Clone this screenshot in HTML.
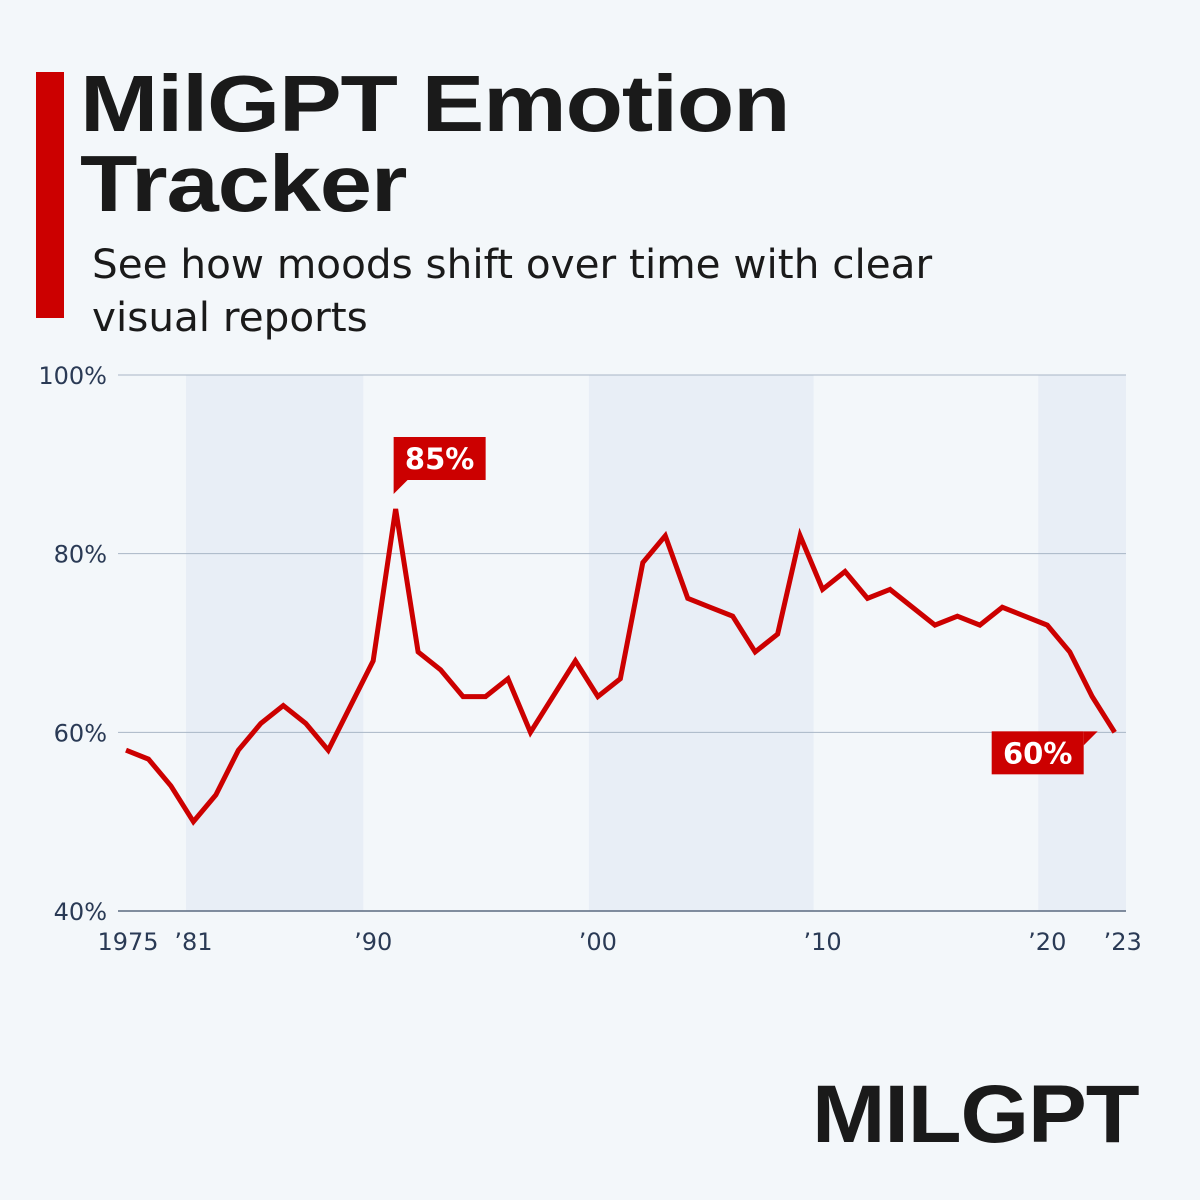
<!DOCTYPE html>
<html><head><meta charset="utf-8"><style>
body{margin:0;width:1200px;height:1200px;background:#f3f7fa;font-family:"Liberation Sans",sans-serif;overflow:hidden;position:relative}
.bar{position:absolute;left:36px;top:72px;width:28px;height:246px;background:#cc0000}
h1{position:absolute;left:80px;top:64px;margin:0;font-size:80px;line-height:80px;font-weight:bold;color:#1a1a1a;letter-spacing:-1px;transform:scaleX(1.175);transform-origin:0 0;white-space:nowrap}
.sub{position:absolute;left:92px;top:238px;font-family:"DejaVu Sans",sans-serif;font-size:40.5px;line-height:53px;color:#1a1a1a;white-space:nowrap}
.logo{position:absolute;left:812px;top:1068px;font-size:82px;font-weight:bold;color:#1a1a1a;letter-spacing:-1px;transform:scaleX(1.075);transform-origin:0 0}
svg{position:absolute;left:0;top:0}
svg text{font-family:"DejaVu Sans",sans-serif}
</style></head><body>
<div class="bar"></div>
<h1>MilGPT Emotion<br>Tracker</h1>
<div class="sub">See how moods shift over time with clear<br>visual reports</div>
<div class="logo">MILGPT</div>
<svg id="chart" width="1200" height="1000"></svg>
<script>
const values=[58,57,54,50,53,58,61,63,61,58,63,68,85,69,67,64,64,66,60,64,68,64,66,79,82,75,74,73,69,71,82,76,78,75,76,74,72,73,72,74,73,72,69,64,60];
const yTicks=[40,60,80,100];
const xLabels=["1975","’81","’90","’00","’10","’20","’23"];
const xLabelIdx=[0,3,11,21,31,41,44];
const bands=[[2.67,10.56],[20.6,30.6],[40.6,44.5]];
const NS="http://www.w3.org/2000/svg";
const svg=document.getElementById('chart');
const x=i=>126+i*22.47;
const y=v=>911-(v-40)*(536/60);
function el(t,a,p){const e=document.createElementNS(NS,t);for(const k in a)e.setAttribute(k,a[k]);(p||svg).appendChild(e);return e;}
bands.forEach(b=>{const r=el('rect',{x:x(b[0]),y:375,width:Math.min(x(b[1]),1126)-x(b[0]),height:536,fill:'#e8eef6'});

});
yTicks.forEach(v=>{const l=el('line',{x1:118,x2:1126,y1:y(v),y2:y(v),stroke:v===40?'#5a6a80':'#a9b6c6','stroke-width':v===40?1.5:1});


const t=el('text',{x:107,y:y(v)+9,'text-anchor':'end','font-size':24,fill:'#2a3a55'});t.textContent=v+'%';

});
xLabels.forEach((s,k)=>{const t=el('text',{x:x(xLabelIdx[k])+(k===0?2:(k===6?8:0)),y:950,'text-anchor':'middle','font-size':24,fill:'#2a3a55'});t.textContent=s;

});
const p=el('polyline',{points:values.map((v,i)=>x(i)+','+y(v)).join(' '),fill:'none',stroke:'#cc0000','stroke-width':5,'stroke-linejoin':'miter'});


function callout(i,dx,dy,up){const px=x(i),py=y(values[i]);const g=el('g',{});


const bx=px+dx,by=py+dy;el('rect',{x:bx,y:by,width:92,height:43,fill:'#cc0000'},g);
if(up)el('polygon',{points:`${bx},${by+43} ${bx+14},${by+43} ${bx},${by+57}`,fill:'#cc0000'},g);
else el('polygon',{points:`${bx+92},${by} ${bx+92},${by+14} ${bx+106},${by}`,fill:'#cc0000'},g);
const t=el('text',{x:bx+46,y:by+32,'text-anchor':'middle','font-size':29,'font-weight':'bold',fill:'#fff'},g);t.textContent=values[i]+'%';}
callout(12,-2,-72,true);
callout(44,-123,-1,false);
</script>
</body></html>
